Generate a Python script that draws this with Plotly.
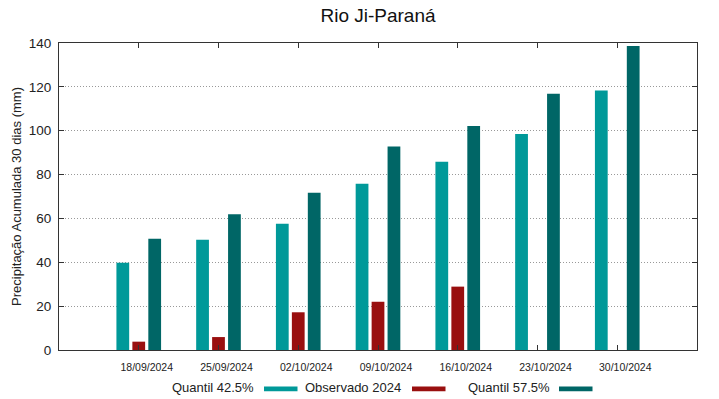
import plotly.graph_objects as go

categories = ["18/09/2024", "25/09/2024", "02/10/2024", "09/10/2024",
              "16/10/2024", "23/10/2024", "30/10/2024"]
q425 = [39.8, 50.3, 57.6, 75.8, 85.9, 98.5, 118.3]
observado = [3.8, 5.9, 17.2, 22.0, 28.9, None, None]
q575 = [50.7, 61.9, 71.7, 92.8, 102.2, 116.8, 138.6]
series_names = ["Quantil 42.5%", "Observado 2024", "Quantil 57.5%"]
colors = ["#009999", "#990f0f", "#006666"]

x = list(range(len(categories)))
FONT = "Liberation Sans, Arial, sans-serif"

fig = go.Figure()
for name, vals, c in zip(series_names, [q425, observado, q575], colors):
    fig.add_trace(go.Bar(x=x, y=vals, name=name, marker=dict(color=c, line=dict(width=0)),
                         showlegend=False))

L, R, T, B = 59, 22, 43, 49
PW, PH = 719 - L - R, 399 - T - B

fig.update_layout(
    width=719, height=399,
    margin=dict(l=L, r=R, t=T, b=B, autoexpand=False),
    paper_bgcolor="white", plot_bgcolor="white",
    barmode="group", bargap=0.4, bargroupgap=0.2,
    font=dict(family=FONT, color="#222"),
    title=dict(text="Rio Ji-Paraná", x=0.5, xref="paper", xanchor="center",
               y=1 - 15.5/399, yref="container", yanchor="middle",
               font=dict(size=19, family=FONT, color="#111")),
)
fig.update_xaxes(range=[-1, 7], tickmode="array", tickvals=x, ticktext=categories,
                 ticks="inside", ticklen=5, tickcolor="#333", showline=True, linecolor="#333",
                 linewidth=1, mirror="ticks", showgrid=False, zeroline=False, automargin=False,
                 tickfont=dict(size=10.5, family=FONT, color="#222"),
                 ticklabelstandoff=7, ticklabelshift=8)
fig.update_yaxes(range=[0, 140], tickvals=[0, 20, 40, 60, 80, 100, 120, 140],
                 ticks="inside", ticklen=5, tickcolor="#333", showline=True, linecolor="#333",
                 linewidth=1, mirror="ticks", showgrid=True, gridcolor="#999",
                 griddash="1px,2px", gridwidth=1, zeroline=False, automargin=False,
                 tickfont=dict(size=13.5, family=FONT, color="#222"), ticklabelstandoff=4,
                 title=dict(text="Precipitação Acumulada 30 dias (mm)",
                            font=dict(size=13, family=FONT, color="#222"), standoff=4))

# legend (gnuplot style: text followed by colour sample)
legend_items = [(series_names[0], colors[0], 256, 264), (series_names[1], colors[1], 403, 412),
                (series_names[2], colors[2], 551.5, 559)]
for name, c, tx, sx in legend_items:
    fig.add_annotation(text=name, xref="paper", yref="paper",
                       x=(tx - L) / PW, y=-(387.5 - (T + PH)) / PH, xanchor="right", yanchor="middle",
                       showarrow=False, font=dict(size=13, family=FONT, color="#222"))
    fig.add_shape(type="rect", xref="paper", yref="paper",
                  x0=(sx - L) / PW, x1=(sx + 33.5 - L) / PW,
                  y0=-(391.3 - (T + PH)) / PH, y1=-(386.5 - (T + PH)) / PH,
                  fillcolor=c, line=dict(width=0))

fig.write_html("out.html", config={"displayModeBar": False},
               post_script="document.body.style.margin='0';")
